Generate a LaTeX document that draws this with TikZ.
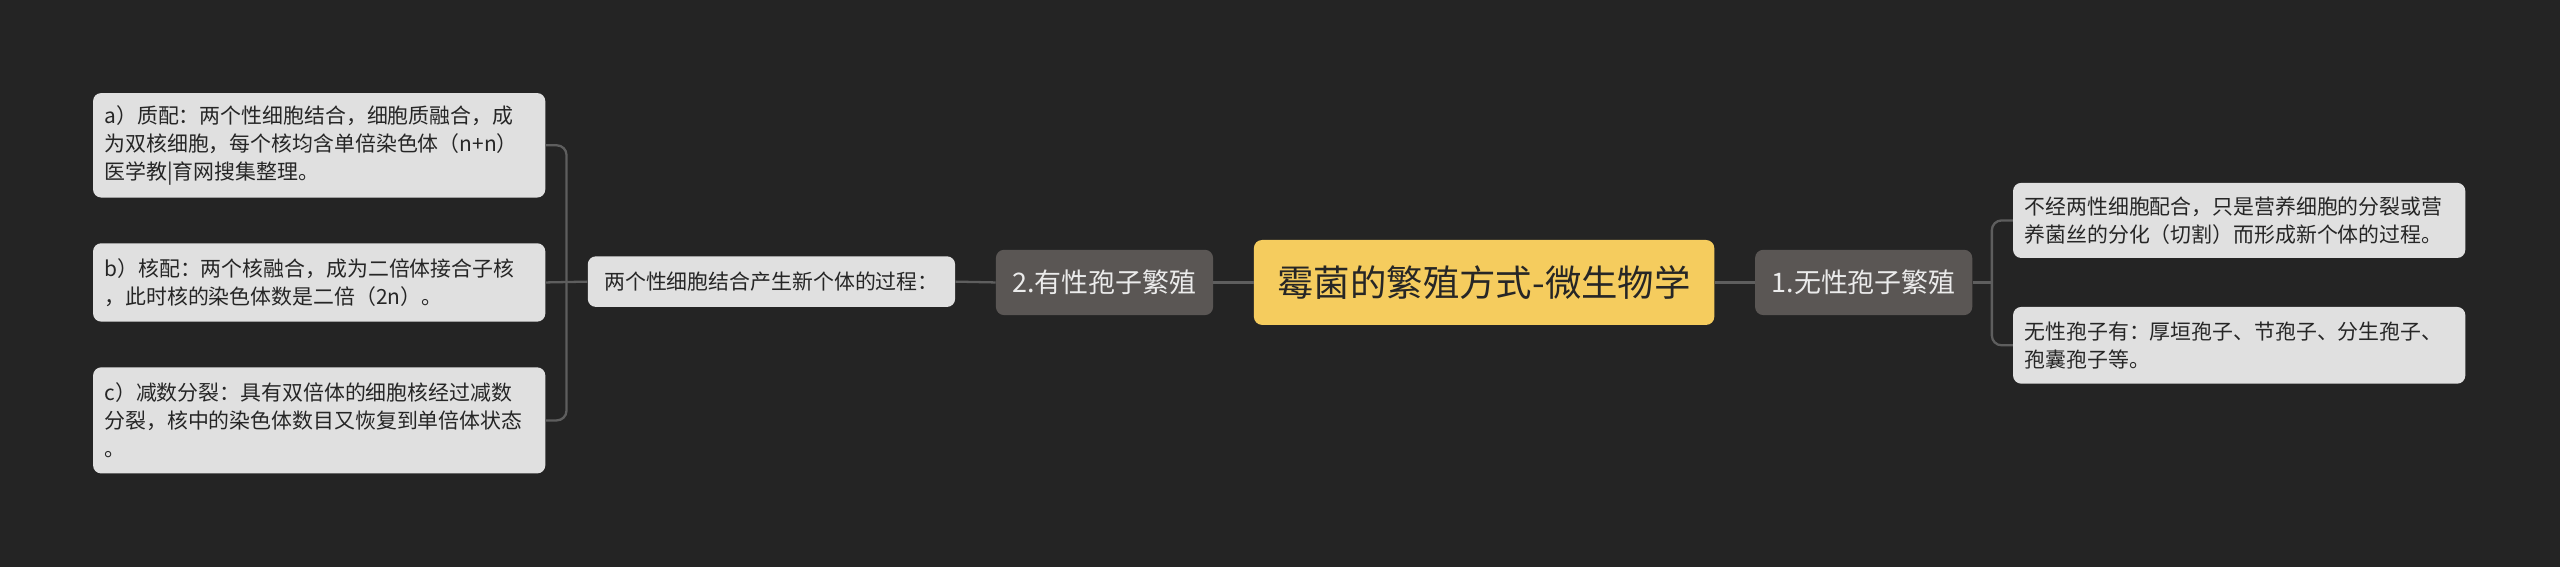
\documentclass[tikz,border=0pt]{standalone}
\usepackage{fontspec}
\setmainfont{Noto Sans CJK SC}
\definecolor{bg}{HTML}{242424}
\definecolor{rootfill}{HTML}{F5CC5E}
\definecolor{midfill}{HTML}{5A5654}
\definecolor{leaffill}{HTML}{E0E0E0}
\definecolor{linec}{HTML}{5E5E5E}
\definecolor{darktext}{HTML}{262626}
\tikzset{
  rootbox/.style={fill=rootfill, rounded corners=5pt, minimum width=282pt, minimum height=52pt, inner sep=0pt,
    font=\fontsize{22.3}{26}\selectfont, text=darktext},
  midbox/.style={fill=midfill, rounded corners=5pt, minimum width=133pt, minimum height=40pt, inner sep=0pt,
    font=\fontsize{16.5}{20}\selectfont, text=white!92!black},
  leafbox/.style={fill=leaffill, rounded corners=5pt, inner xsep=7pt, inner ysep=0pt, text width=263pt, align=left,
    font=\fontsize{12.8}{17}\selectfont, text=darktext},
  midleaf/.style={fill=leaffill, rounded corners=5pt, minimum width=225pt, minimum height=31pt, inner sep=0pt,
    font=\fontsize{12.8}{17}\selectfont, text=darktext},
  conn/.style={draw=linec, line width=1.4pt, rounded corners=6pt}
}
\begin{document}
\begin{tikzpicture}[x=1pt,y=-1pt]
\fill[bg] (0,0) rectangle (1568,347);
\useasboundingbox (0,0) rectangle (1568,347);
\node[rootbox] (root) at (909,173) {霉菌的繁殖方式-微生物学};
\node[midbox] (n1) at (1141.5,173) {1.无性孢子繁殖};
\node[midbox] (n2) at (676.5,173) {2.有性孢子繁殖};
\node[leafbox, minimum height=46pt] (r1) at (1371.5,135) {不经两性细胞配合，只是营养细胞的分裂或营\\养菌丝的分化（切割）而形成新个体的过程。};
\node[leafbox, minimum height=47pt] (r2) at (1371.5,211.5) {无性孢子有：厚垣孢子、节孢子、分生孢子、\\孢囊孢子等。};
\node[midleaf] (m) at (472.5,172.5) {两个性细胞结合产生新个体的过程：};
\node[leafbox, minimum height=64pt] (a) at (195.5,89) {a）质配：两个性细胞结合，细胞质融合，成\\为双核细胞，每个核均含单倍染色体（n+n）\\医学教|育网搜集整理。};
\node[leafbox, minimum height=48pt] (b) at (195.5,173) {b）核配：两个核融合，成为二倍体接合子核\\，此时核的染色体数是二倍（2n）。};
\node[leafbox, minimum height=65pt] (c) at (195.5,257.5) {c）减数分裂：具有双倍体的细胞核经过减数\\分裂，核中的染色体数目又恢复到单倍体状态\\。};
\coordinate (br) at (1220,173);
\coordinate (bl) at (347,173);
\draw[conn] (root.west) -- (n2.east);
\draw[conn] (root.east) -- (n1.west);
\draw[conn] (n2.west) -- (m.east);
\draw[conn] (n1.east) -- (br);
\draw[conn] (r1.west) -| (br) |- (r2.west);
\draw[conn] (m.west) -- (b.east);
\draw[conn] (a.east) -| (bl) |- (c.east);
\end{tikzpicture}
\end{document}
